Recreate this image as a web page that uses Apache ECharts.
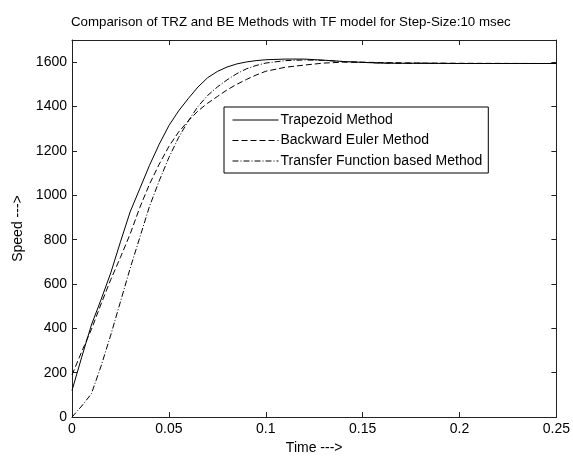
<!DOCTYPE html>
<html>
<head>
<meta charset="utf-8">
<script src="https://cdn.jsdelivr.net/npm/echarts@6/dist/echarts.min.js"></script>
<style>
  html, body { margin: 0; padding: 0; background: #fff; }
  #chart { width: 573px; height: 460px; }
</style>
</head>
<body>
<div id="chart"></div>
<script>
// time (s)
var times = [0, 0.005, 0.01, 0.015, 0.02, 0.025, 0.03, 0.035, 0.04, 0.045,
  0.05, 0.055, 0.06, 0.065, 0.07, 0.075, 0.08, 0.085, 0.09, 0.095, 0.1,
  0.11, 0.12, 0.13, 0.14, 0.15, 0.16, 0.17, 0.18, 0.2, 0.25];
var trapezoid = [120, 270, 415, 530, 650, 790, 925, 1030, 1135, 1230,
  1314, 1380, 1436, 1488, 1530, 1558, 1578, 1592, 1601, 1607, 1611,
  1614, 1614, 1609, 1603, 1599, 1596, 1595, 1595, 1594, 1594];
var backwardEuler = [190, 295, 395, 510, 620, 720, 825, 945, 1050, 1140,
  1220, 1285, 1335, 1380, 1415, 1445, 1475, 1500, 1522, 1542, 1559,
  1577, 1587, 1596, 1600, 1600, 1598, 1597, 1596, 1595, 1594];
var transferFn = [0, 50, 105, 230, 370, 520, 670, 810, 950, 1065,
  1170, 1260, 1335, 1400, 1450, 1488, 1520, 1548, 1570, 1585, 1596,
  1607, 1610, 1608, 1603, 1599, 1596, 1595, 1595, 1594, 1594];
var seriesNames = ['Trapezoid Method', 'Backward Euler Method', 'Transfer Function based Method'];

function pairs(vals) {
  var out = [];
  for (var i = 0; i < times.length; i++) out.push([times[i], vals[i]]);
  return out;
}

var font = 'Arial, "Liberation Sans", sans-serif';
var chart = echarts.init(document.getElementById('chart'));

function line(name, vals, type) {
  return {
    name: name,
    type: 'line',
    data: pairs(vals),
    symbol: 'none',
    smooth: false,
    itemStyle: { color: '#000' },
    lineStyle: { color: '#000', width: 1, type: type }
  };
}

var tickStyle = { inside: true, length: 5, lineStyle: { color: '#222' } };
var edge = { show: true, onZero: false, lineStyle: { color: '#222' } };

chart.setOption({
  backgroundColor: '#fff',
  animation: false,
  title: {
    text: 'Comparison of TRZ and BE Methods with TF model for Step-Size:10 msec',
    left: 66, top: 11,
    textStyle: { fontFamily: font, fontSize: 13.3, fontWeight: 'normal', color: '#000' }
  },
  legend: {
    data: seriesNames,
    orient: 'vertical',
    left: 224, top: 107,
    padding: [6, 6, 5, 8],
    itemWidth: 46, itemHeight: 14, itemGap: 6.5,
    itemStyle: { opacity: 0 },
    lineStyle: { width: 1 },
    borderColor: '#000', borderWidth: 1,
    backgroundColor: '#fff',
    textStyle: { fontFamily: font, fontSize: 14, color: '#000', padding: [0, 0, 0, -3] }
  },
  grid: { left: 72, right: 15, top: 40, bottom: 38 },
  xAxis: [{
    type: 'value', min: 0, max: 0.25, interval: 0.05,
    name: 'Time --->', nameLocation: 'middle', nameGap: 22,
    nameTextStyle: { fontFamily: font, fontSize: 14, color: '#000' },
    axisLine: edge,
    axisTick: tickStyle,
    splitLine: { show: false },
    axisLabel: { fontFamily: font, fontSize: 14, color: '#000', margin: 5 }
  }, {
    type: 'value', min: 0, max: 0.25, interval: 0.05, position: 'top',
    axisLine: edge,
    axisTick: tickStyle,
    splitLine: { show: false },
    axisLabel: { show: false }
  }],
  yAxis: [{
    type: 'value', min: 0, max: 1700, interval: 200,
    name: 'Speed --->', nameLocation: 'middle', nameGap: 45,
    nameTextStyle: { fontFamily: font, fontSize: 14, color: '#000' },
    axisLine: edge,
    axisTick: tickStyle,
    splitLine: { show: false },
    axisLabel: {
      fontFamily: font, fontSize: 14, color: '#000', margin: 5, showMaxLabel: false,
      formatter: function (v) { return String(v); }
    }
  }, {
    type: 'value', min: 0, max: 1700, interval: 200, position: 'right',
    axisLine: edge,
    axisTick: tickStyle,
    splitLine: { show: false },
    axisLabel: { show: false }
  }],
  series: [
    line(seriesNames[0], trapezoid, 'solid'),
    line(seriesNames[1], backwardEuler, [6, 3]),
    line(seriesNames[2], transferFn, [6, 2, 1, 2])
  ]
});
</script>
</body>
</html>
